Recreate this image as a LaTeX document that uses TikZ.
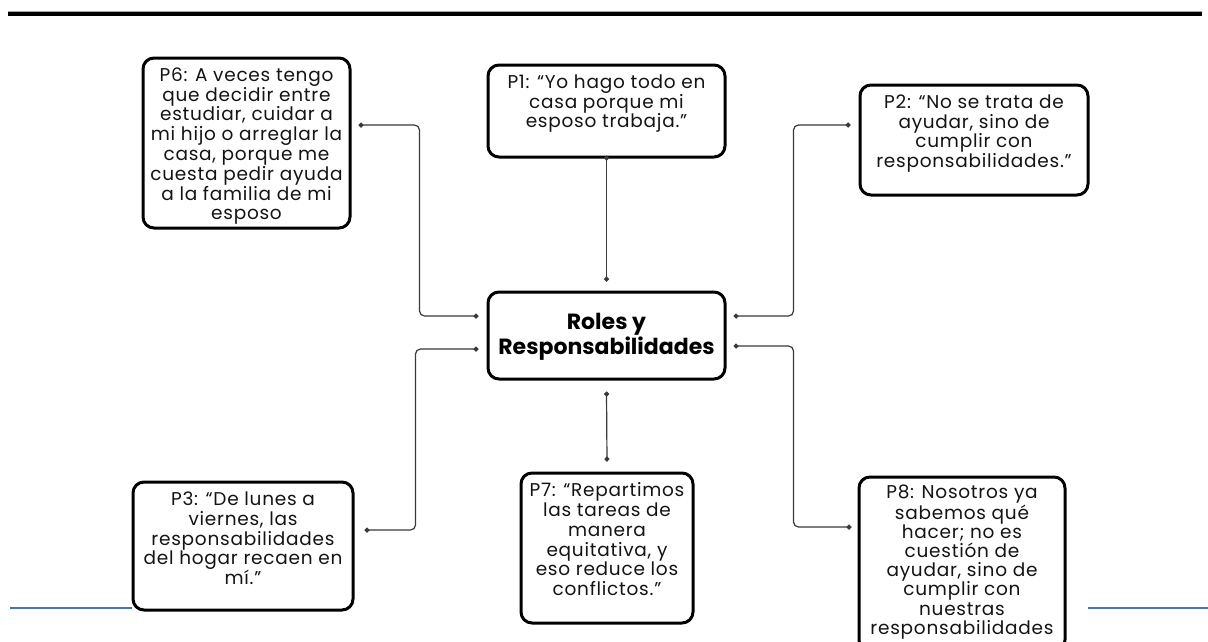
\documentclass[tikz,border=0pt]{standalone}
\usepackage{fontspec}
\setmainfont{Poppins}
\newfontfamily\boxfont[LetterSpace=4]{Poppins}
\usetikzlibrary{arrows.meta}
\definecolor{conncol}{HTML}{3A3A3A}
\definecolor{wordblue}{HTML}{4472C4}
\begin{document}
\begin{tikzpicture}[x=1pt,y=-1pt,
  box/.style={draw=black,line width=3pt,rounded corners=11pt,fill=white,inner sep=0pt},
  txt/.style={anchor=north,align=center,inner sep=0pt,font=\boxfont\fontsize{18.5}{19.8}\selectfont,text=black!92},
  conn/.style={draw=conncol,line width=1.2pt,rounded corners=5pt,{Circle[length=5pt]}-{Circle[length=5pt]}},
  rule/.style={line width=3.2pt,draw=black},
  blueline/.style={line width=2pt,draw=wordblue}
]
\useasboundingbox (0,0) rectangle (1208,641);
\clip (0,0) rectangle (1208,641);
\fill[white] (0,0) rectangle (1208,641);

% top rule and footer lines
\draw[draw=black!35,line width=1pt] (8,11.5) -- (1202,11.5);
\draw[rule] (8,14) -- (1202,14);

% boxes
\node[box,minimum width=207pt,minimum height=170pt] (P6) at (246.5,143) {};
\node[box,minimum width=237pt,minimum height=92pt] (P1) at (606.5,111) {};
\node[box,minimum width=228pt,minimum height=110pt] (P2) at (974,140) {};
\node[box,minimum width=237pt,minimum height=87pt] (C) at (606.5,335.5) {};
\node[box,minimum width=220pt,minimum height=128pt] (P3) at (243,546) {};
\node[box,minimum width=172pt,minimum height=150pt] (P7) at (607,548) {};
\node[box,minimum width=206pt,minimum height=174pt] (P8) at (962,564) {};

\draw[blueline] (10,608) -- (P3.west |- 0,608);
\draw[blueline] (1088,608) -- (1208,608);

% texts
\node[txt] (t6) at ([yshift=-11pt]P6.north) {P6: A veces tengo\\que decidir entre\\estudiar, cuidar a\\mi hijo o arreglar la\\casa, porque me\\cuesta pedir ayuda\\a la familia de mi\\esposo};
\node[txt] (t1) at ([yshift=-11pt]P1.north) {P1: “Yo hago todo en\\casa porque mi\\esposo trabaja.”};
\node[txt] (t2) at ([yshift=-11pt]P2.north) {P2: “No se trata de\\ayudar, sino de\\cumplir con\\responsabilidades.”};
\node[txt] (t3) at ([yshift=-11pt]P3.north) {P3: “De lunes a\\viernes, las\\responsabilidades\\del hogar recaen en\\mí.”};
\node[txt] (t7) at ([yshift=-11pt]P7.north) {P7: “Repartimos\\las tareas de\\manera\\equitativa, y\\eso reduce los\\conflictos.”};
\node[txt,font=\boxfont\fontsize{18.5}{19.2}\selectfont] (t8) at ([yshift=-9.5pt]P8.north) {P8: Nosotros ya\\sabemos qué\\hacer; no es\\cuestión de\\ayudar, sino de\\cumplir con\\nuestras\\responsabilidades};
\node[align=center,inner sep=0pt,font=\bfseries\fontsize{22}{25}\selectfont] (tc) at ([yshift=-1.5pt]C.center) {Roles y\\Responsabilidades};

% connectors
\draw[conn] ([yshift=3pt]P1.south) -- ([yshift=9pt]C.north);
\draw[conn] ([yshift=-11pt]C.south) -- ([yshift=10pt]P7.north);
\draw[conn] ([xshift=7pt,yshift=18pt]P6.east) -- ++(61pt,0) |- ([xshift=-8pt,yshift=19.5pt]C.west);
\draw[conn] ([xshift=7pt,yshift=19.5pt]C.east) -- ++(60pt,0) |- ([xshift=-8pt,yshift=15pt]P2.west);
\draw[conn] ([xshift=-8pt,yshift=-13.5pt]C.west) -- ++(-63pt,0) |- ([xshift=10pt,yshift=16pt]P3.east);
\draw[conn] ([xshift=7pt,yshift=-10.5pt]C.east) -- ++(60pt,0) |- ([xshift=-6pt,yshift=37pt]P8.west);
\end{tikzpicture}
\end{document}
